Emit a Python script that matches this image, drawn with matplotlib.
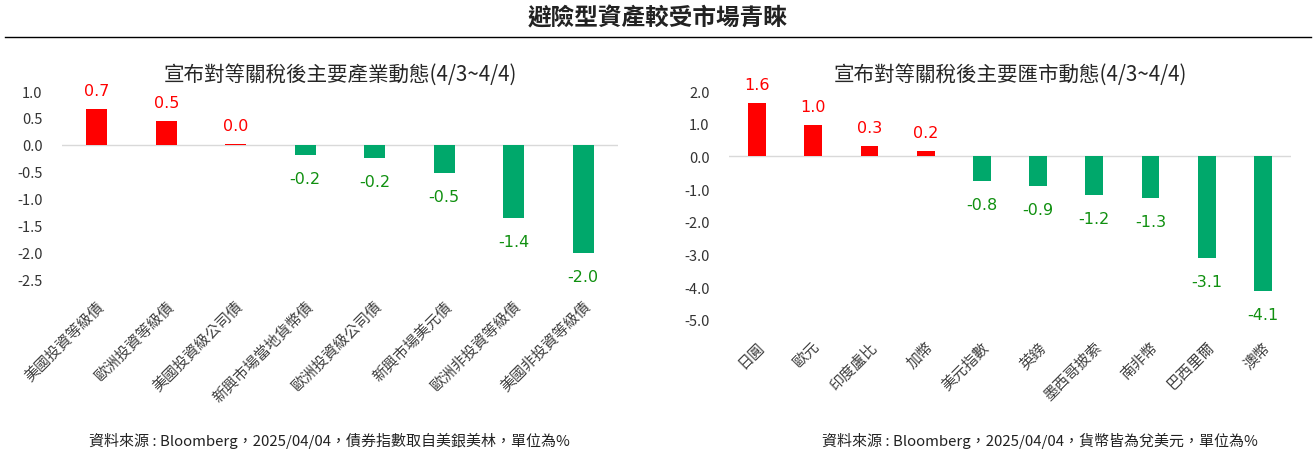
import matplotlib
matplotlib.use("Agg")
import matplotlib.pyplot as plt
from matplotlib.lines import Line2D

plt.rcParams['font.family'] = ['Noto Sans CJK TC', 'DejaVu Sans']

# ---- data ----
main_title = "避險型資產較受市場青睞"

left_title = "宣布對等關稅後主要產業動態(4/3~4/4)"
left_cats = ["美國投資等級債", "歐洲投資等級債", "美國投資級公司債", "新興市場當地貨幣債",
             "歐洲投資級公司債", "新興市場美元債", "歐洲非投資等級債", "美國非投資等級債"]
left_vals = [0.66, 0.45, 0.02, -0.20, -0.24, -0.52, -1.36, -2.02]
left_ticks = [1.0, 0.5, 0.0, -0.5, -1.0, -1.5, -2.0, -2.5]
left_source = "資料來源 : Bloomberg，2025/04/04，債券指數取自美銀美林，單位為%"

right_title = "宣布對等關稅後主要匯市動態(4/3~4/4)"
right_cats = ["日圓", "歐元", "印度盧比", "加幣", "美元指數", "英鎊", "墨西哥披索", "南非幣", "巴西里爾", "澳幣"]
right_vals = [1.62, 0.96, 0.32, 0.17, -0.76, -0.91, -1.19, -1.28, -3.10, -4.10]
right_ticks = [2.0, 1.0, 0.0, -1.0, -2.0, -3.0, -4.0, -5.0]
right_source = "資料來源 : Bloomberg，2025/04/04，貨幣皆為兌美元，單位為%"

RED = "#FF0000"
GREEN_BAR = "#00A86B"
GREEN_TXT = "#109010"

W, H = 1316, 456
fig = plt.figure(figsize=(W / 100, H / 100), dpi=100)


def px_axes(x0, x1, ytop, ybot):
    return fig.add_axes([x0 / W, 1 - ybot / H, (x1 - x0) / W, (ybot - ytop) / H])


def draw(ax, cats, vals, ticks, title, width):
    n = len(cats)
    xs = list(range(n))
    colors = [RED if v >= 0 else GREEN_BAR for v in vals]
    ax.bar(xs, vals, width=width, color=colors, zorder=2)
    ax.axhline(0, color="#d9d9d9", lw=1.0, zorder=1)
    ax.set_xlim(-0.5, n - 0.5)
    ax.set_ylim(min(ticks), max(ticks))
    ax.set_yticks(ticks)
    ax.set_yticklabels([f"{t:.1f}" for t in ticks], fontsize=10.5, color="#333333")
    ax.set_xticks(xs)
    ax.set_xticklabels(cats, rotation=45, ha="right", va="top", rotation_mode="anchor",
                       fontsize=10.8, color="#404040")
    ax.tick_params(axis="both", length=0)
    ax.tick_params(axis="x", pad=14)
    ax.tick_params(axis="y", pad=14)
    for s in ax.spines.values():
        s.set_visible(False)
    for x, v in zip(xs, vals):
        if v >= 0:
            ax.annotate(f"{v:.1f}", (x, v), xytext=(0, 11), textcoords="offset pixels",
                        ha="center", va="bottom", fontsize=11.5, color=RED,
                        family=["DejaVu Sans"])
        else:
            ax.annotate(f"{v:.1f}", (x, v), xytext=(0, -16), textcoords="offset pixels",
                        ha="center", va="top", fontsize=11.5, color=GREEN_TXT,
                        family=["DejaVu Sans"])
    ax.set_title(title, fontsize=14.8, color="#262626", pad=8)


axL = px_axes(62, 618, 92, 280)
draw(axL, left_cats, left_vals, left_ticks, left_title, 0.3)

axR = px_axes(729, 1291, 92, 321)
draw(axR, right_cats, right_vals, right_ticks, right_title, 0.32)

fig.text(658 / W, 1 - 18 / H, main_title, ha="center", va="center", fontsize=17,
         fontweight="bold", color="#222222")
fig.add_artist(Line2D([5 / W, 1311 / W], [1 - 38 / H, 1 - 38 / H], color="black", lw=1.0))

fig.text(329 / W, 1 - 441 / H, left_source, ha="center", va="center", fontsize=10.8, color="#222222")
fig.text(1040 / W, 1 - 441 / H, right_source, ha="center", va="center", fontsize=10.8, color="#222222")

fig.savefig("out.png", dpi=100, facecolor="white")
